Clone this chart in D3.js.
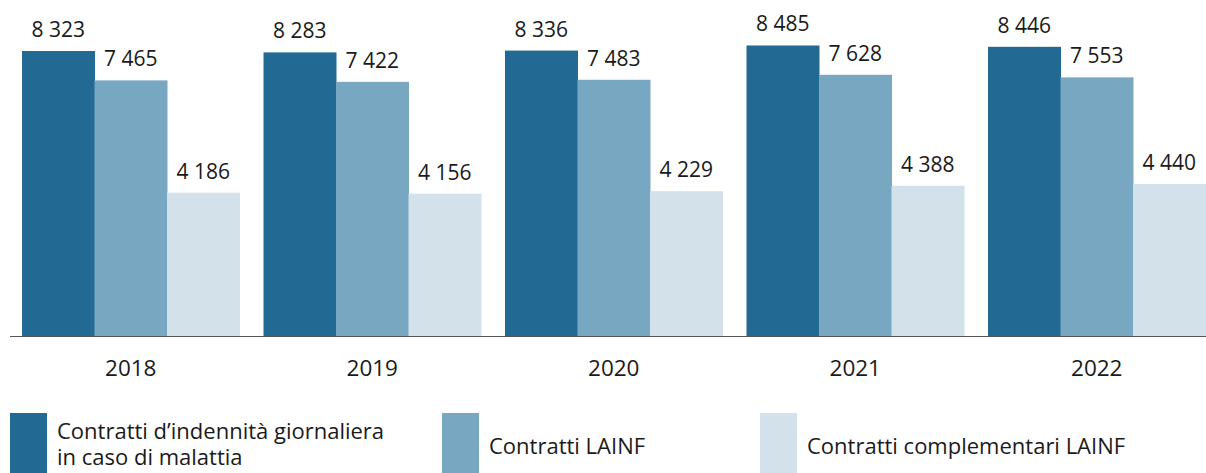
<!DOCTYPE html>
<html lang="it">
<head>
<meta charset="utf-8">
<title>Contratti</title>
<script src="https://d3js.org/d3.v7.min.js"></script>
<style>
  body { margin: 0; background: #fff; }
  svg text { font-family: "Open Sans", sans-serif; fill: #1a1a1a; }
</style>
</head>
<body>
<svg width="1206" height="473"></svg>
<script>
var years = ["2018", "2019", "2020", "2021", "2022"];
var seriesNames = ["Contratti d\u2019indennità giornaliera\nin caso di malattia", "Contratti LAINF", "Contratti complementari LAINF"];
var indennita = [8323, 8283, 8336, 8485, 8446];
var lainf = [7465, 7422, 7483, 7628, 7553];
var complementari = [4186, 4156, 4229, 4388, 4440];
var colors = ["#226a94", "#78a7c2", "#d3e1ea"];

var series = [indennita, lainf, complementari];
var fmt = function(v) { return d3.format(",")(v).replace(/,/g, " "); };

var svg = d3.select("svg");
var baseY = 336;

// groups and bars inside each group
var x0 = d3.scaleBand().domain(years).range([10, 1217.5]).paddingInner(0.0994).paddingOuter(0.0497);
var x1 = d3.scaleBand().domain(d3.range(series.length)).range([0, x0.bandwidth()]);
var y = d3.scaleLinear().domain([0, 10000]).range([baseY, baseY - 342.4]);

var rows = years.map(function(yr, i) {
  return series.map(function(s, k) { return { k: k, v: s[i] }; });
});

var g = svg.selectAll("g.year")
  .data(rows)
  .enter().append("g")
  .attr("class", "year")
  .attr("transform", function(d, i) { return "translate(" + x0(years[i]) + ",0)"; });

g.selectAll("rect")
  .data(function(d) { return d; })
  .enter().append("rect")
  .attr("x", function(d) { return x1(d.k); })
  .attr("width", x1.bandwidth() + 0.5)
  .attr("y", function(d) { return y(d.v); })
  .attr("height", function(d) { return baseY - y(d.v); })
  .attr("fill", function(d) { return colors[d.k]; });

g.selectAll("text.val")
  .data(function(d) { return d; })
  .enter().append("text")
  .attr("class", "val")
  .attr("x", function(d) { return x1(d.k) + x1.bandwidth() / 2; })
  .attr("y", function(d) { return y(d.v) - 14; })
  .attr("text-anchor", "middle")
  .style("font-size", "21px")
  .text(function(d) { return fmt(d.v); });

// baseline
svg.append("line")
  .attr("x1", 10).attr("x2", 1206)
  .attr("y1", baseY + 0.5).attr("y2", baseY + 0.5)
  .attr("stroke", "#555").attr("stroke-width", 1.2);

// year labels
var xAxis = d3.axisBottom(x0).tickSize(0).tickPadding(0);
var ax = svg.append("g").attr("transform", "translate(0," + baseY + ")").call(xAxis);
ax.select(".domain").remove();
ax.selectAll("text")
  .attr("dy", null)
  .attr("y", 40)
  .style("font-size", "22.5px")
  .style("font-family", "'Open Sans', sans-serif")
  .attr("fill", "#1a1a1a");

// legend
var legX = [10, 442, 760];
var leg = svg.selectAll("g.leg")
  .data(seriesNames)
  .enter().append("g")
  .attr("class", "leg")
  .attr("transform", function(d, i) { return "translate(" + legX[i] + ",413)"; });

leg.append("rect")
  .attr("width", 37).attr("height", 60)
  .attr("fill", function(d, i) { return colors[i]; });

leg.append("text")
  .attr("x", 47)
  .style("font-size", "22px")
  .each(function(d) {
    var lines = d.split("\n");
    var t = d3.select(this);
    var startY = lines.length > 1 ? 25.5 : 41;
    lines.forEach(function(l, j) {
      t.append("tspan").attr("x", 47).attr("y", startY + j * 26.5).text(l);
    });
  });
</script>
</body>
</html>
